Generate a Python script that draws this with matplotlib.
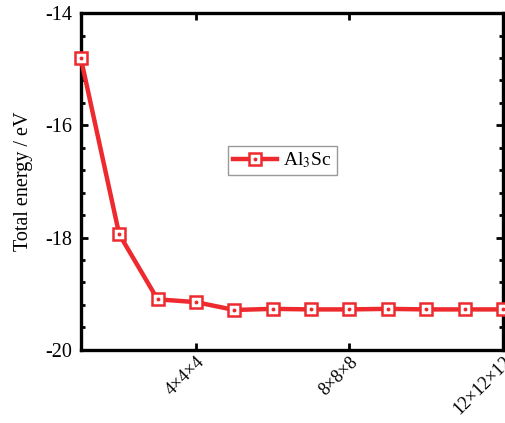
import matplotlib
matplotlib.use("Agg")
import matplotlib.pyplot as plt
from matplotlib.ticker import MultipleLocator
from matplotlib.transforms import ScaledTranslation

plt.rcParams["font.family"] = ["Liberation Serif", "DejaVu Serif"]
plt.rcParams["mathtext.fontset"] = "stix"
plt.rcParams["axes.unicode_minus"] = False

# k-point mesh index and total energy
kpoints = [1, 2, 3, 4, 5, 6, 7, 8, 9, 10, 11, 12]
energy = [-14.80, -17.94, -19.10, -19.15, -19.29, -19.27,
          -19.28, -19.28, -19.27, -19.28, -19.28, -19.28]
tick_pos = [4, 8, 12]
tick_labels = ["4×4×4", "8×8×8", "12×12×12"]
series_label = "Al$_3$Sc"

red = "#ee2a2e"
fs = 14.5

fig = plt.figure(figsize=(5.05, 4.23), dpi=100)
ax = fig.add_axes([0.160, 0.173, 0.836, 0.796])

line, = ax.plot(kpoints, energy, color=red, lw=3.2, marker="s", ms=8.5,
                mfc="white", mec=red, mew=1.8, clip_on=False, zorder=3)
dots, = ax.plot(kpoints, energy, ls="none", marker="o", ms=1.8,
                color=red, clip_on=False, zorder=4)

ax.set_xlim(1, 12)
ax.set_ylim(-20, -14)
ax.set_xticks(tick_pos)
ax.set_xticklabels(tick_labels, rotation=45, ha="right", va="top",
                   rotation_mode="anchor", fontsize=13)
shift = ScaledTranslation(0.12, 0, fig.dpi_scale_trans)
for lab in ax.get_xticklabels():
    lab.set_transform(lab.get_transform() + shift)
ax.yaxis.set_major_locator(MultipleLocator(2))
ax.yaxis.set_minor_locator(MultipleLocator(0.4))
ax.set_ylabel("Total energy / eV", fontsize=fs, labelpad=9)

ax.tick_params(which="both", direction="in", top=True, right=True, width=2)
ax.tick_params(axis="y", labelsize=fs)
ax.tick_params(which="major", length=5)
ax.tick_params(axis="y", which="major", pad=6)
ax.tick_params(axis="x", which="major", pad=2.5)
ax.tick_params(which="minor", length=3)
for s in ax.spines.values():
    s.set_linewidth(2.4)

ax.legend([(line, dots)], [series_label], loc="center",
          bbox_to_anchor=(0.477, 0.562), fontsize=14, fancybox=False,
          edgecolor="#999999", framealpha=1, handlelength=2.3,
          borderpad=0.25, handletextpad=0.3, borderaxespad=0)

fig.savefig("out.png", dpi=100)
